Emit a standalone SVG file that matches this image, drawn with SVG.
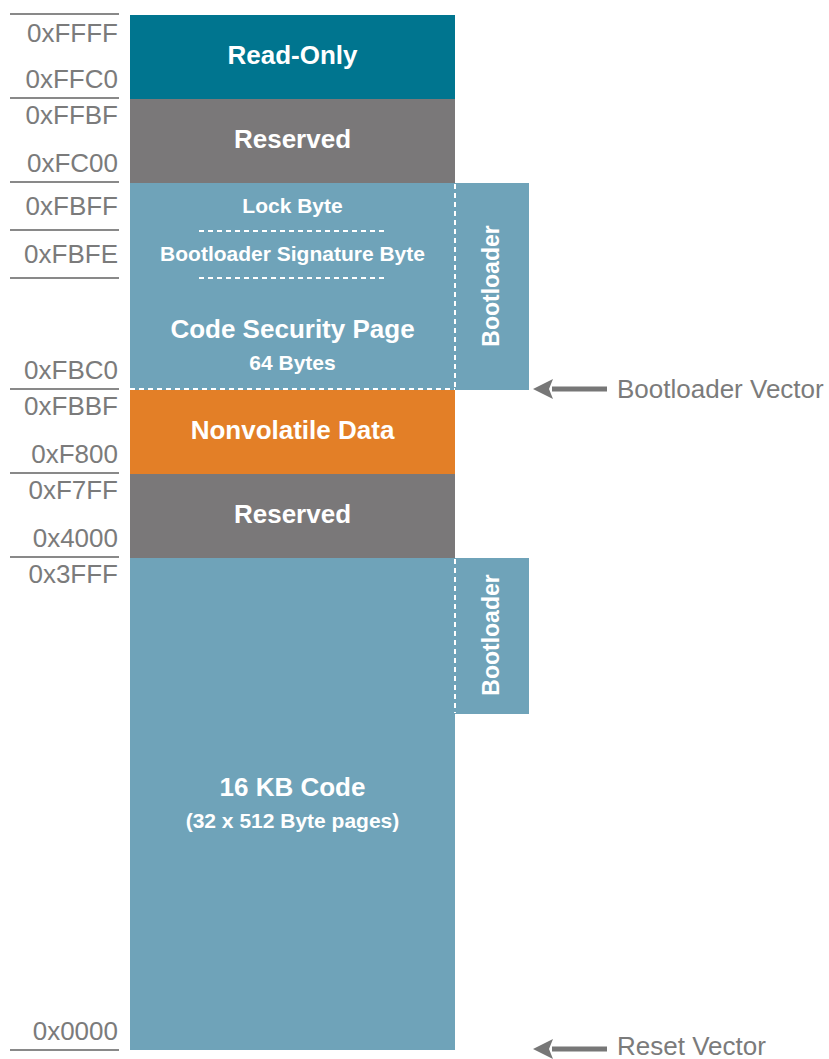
<svg xmlns="http://www.w3.org/2000/svg" width="829" height="1059" viewBox="0 0 829 1059">
<defs>
<style>
.addr{font-family:"Liberation Sans",Arial,sans-serif;font-size:26px;fill:#7b7b7b;text-anchor:end}
.big{font-family:"Liberation Sans",Arial,sans-serif;font-size:26px;font-weight:bold;fill:#ffffff;text-anchor:middle}
.small{font-family:"Liberation Sans",Arial,sans-serif;font-size:21px;font-weight:bold;fill:#ffffff;text-anchor:middle}
.side{font-family:"Liberation Sans",Arial,sans-serif;font-size:23px;font-weight:bold;fill:#ffffff;text-anchor:middle}
.vec{font-family:"Liberation Sans",Arial,sans-serif;font-size:26px;fill:#7b7b7b}
.sep{stroke:#898989;stroke-width:2}
.dash{stroke:#ffffff;stroke-width:2;stroke-dasharray:5 4;fill:none}
.arrow{stroke:#777777;stroke-width:5;fill:none}
</style>
<marker id="ah" markerWidth="20" markerHeight="20" refX="1" refY="10" orient="auto" markerUnits="userSpaceOnUse" viewBox="0 0 20 20">
<path d="M0,0 L20,10 L0,20 L4,10 Z" fill="#777777"/>
</marker>
</defs>

<g id="address-lines">
<line class="sep" x1="10" y1="14" x2="119" y2="14"/>
<line class="sep" x1="10" y1="98" x2="119" y2="98"/>
<line class="sep" x1="10" y1="182" x2="119" y2="182"/>
<line class="sep" x1="10" y1="230" x2="119" y2="230"/>
<line class="sep" x1="10" y1="278" x2="119" y2="278"/>
<line class="sep" x1="10" y1="389" x2="119" y2="389"/>
<line class="sep" x1="10" y1="473" x2="119" y2="473"/>
<line class="sep" x1="10" y1="557" x2="119" y2="557"/>
<line class="sep" x1="10" y1="1050" x2="119" y2="1050"/>
</g>

<g id="address-labels">
<text class="addr" x="118" y="42">0xFFFF</text>
<text class="addr" x="118" y="88">0xFFC0</text>
<text class="addr" x="118" y="124">0xFFBF</text>
<text class="addr" x="118" y="172">0xFC00</text>
<text class="addr" x="118" y="215">0xFBFF</text>
<text class="addr" x="118" y="263">0xFBFE</text>
<text class="addr" x="118" y="379">0xFBC0</text>
<text class="addr" x="118" y="415">0xFBBF</text>
<text class="addr" x="118" y="463">0xF800</text>
<text class="addr" x="118" y="499">0xF7FF</text>
<text class="addr" x="118" y="547">0x4000</text>
<text class="addr" x="118" y="583">0x3FFF</text>
<text class="addr" x="118" y="1040">0x0000</text>
</g>

<g id="read-only">
<rect x="130" y="15" width="325" height="84" fill="#00758f"/>
<text class="big" x="292.5" y="64">Read-Only</text>
</g>

<g id="reserved-top">
<rect x="130" y="99" width="325" height="84" fill="#7a7879"/>
<text class="big" x="292.5" y="148">Reserved</text>
</g>

<g id="bootloader-top">
<rect x="455" y="183" width="74" height="207" fill="#6fa3b9"/>
<text class="side" transform="translate(499,286) rotate(-90)">Bootloader</text>
</g>

<g id="code-security-page">
<rect x="130" y="183" width="325" height="207" fill="#6fa3b9"/>
<text class="small" x="292.5" y="213">Lock Byte</text>
<line class="dash" x1="199" y1="231" x2="387" y2="231"/>
<text class="small" x="292.5" y="261">Bootloader Signature Byte</text>
<line class="dash" x1="199" y1="278" x2="387" y2="278"/>
<text class="big" x="292.5" y="338">Code Security Page</text>
<text class="small" x="292.5" y="370">64 Bytes</text>
</g>

<g id="nonvolatile-data">
<rect x="130" y="390" width="325" height="84" fill="#e37f27"/>
<text class="big" x="292.5" y="439">Nonvolatile Data</text>
</g>

<g id="reserved-mid">
<rect x="130" y="474" width="325" height="84" fill="#7a7879"/>
<text class="big" x="292.5" y="523">Reserved</text>
</g>

<g id="bootloader-bottom">
<rect x="455" y="558" width="74" height="156" fill="#6fa3b9"/>
<text class="side" transform="translate(499,635) rotate(-90)">Bootloader</text>
</g>

<g id="code">
<rect x="130" y="558" width="325" height="492" fill="#6fa3b9"/>
<text class="big" x="292.5" y="796">16 KB Code</text>
<text class="small" x="292.5" y="828">(32 x 512 Byte pages)</text>
</g>

<g id="boundaries">
<line class="dash" x1="455" y1="184" x2="455" y2="389"/>
<line class="dash" x1="130" y1="389" x2="455" y2="389"/>
<line class="dash" x1="455" y1="559" x2="455" y2="713"/>
</g>

<g id="connectors">
<line class="arrow" x1="607" y1="389" x2="552" y2="389" marker-end="url(#ah)"/>
<line class="arrow" x1="607" y1="1049" x2="552" y2="1049" marker-end="url(#ah)"/>
</g>

<g id="vector-labels">
<text class="vec" x="617" y="398">Bootloader Vector</text>
<text class="vec" x="617" y="1055">Reset Vector</text>
</g>
</svg>
